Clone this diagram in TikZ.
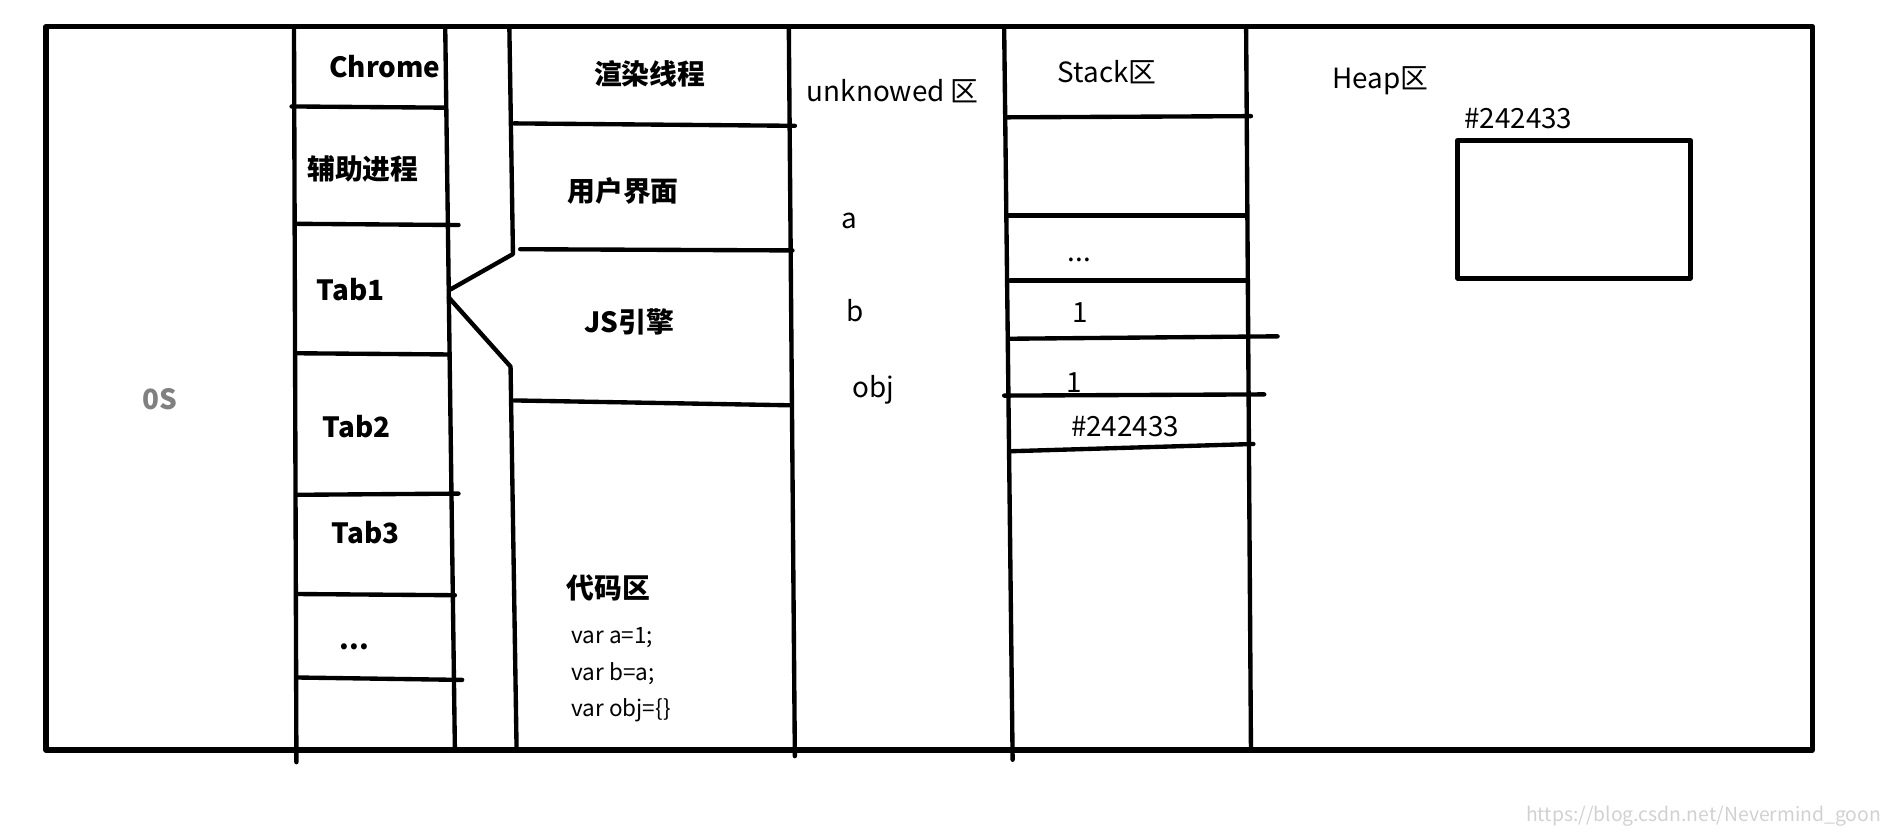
\documentclass[tikz,border=0pt]{standalone}
\usepackage{fontspec}
\setmainfont{Noto Sans CJK SC}
\begin{document}
\begin{tikzpicture}[x=0.5pt, y=-0.5pt, line cap=round, line join=round,
  title/.style={font=\bfseries\fontsize{11.5}{13}\selectfont},
  plain/.style={font=\fontsize{11.5}{13}\selectfont},
  code/.style={font=\fontsize{9.3}{11}\selectfont, anchor=west, inner sep=0pt}]
  \useasboundingbox (0,0) rectangle (1568,688);
  % Draw the outer frame of the whole picture
  \begin{scope}[line width=2.2pt]
    \draw (38,22) rectangle (1498,620);
  \end{scope}
  % Draw the column borders, the render column bends in to Tab1
  \begin{scope}[line width=1.8pt]
    \draw (243,22) -- (245,630);
    \draw (368,22) -- (376,620);
    \draw (421,22) -- (424,210) -- (371,240);
    \draw (371,246) -- (422,303) -- (427,620);
    \draw (652,22) -- (657,625);
    \draw (830,22) -- (837,628);
    \draw (1030,22) -- (1034,620);
  \end{scope}
  % Process rows
  \begin{scope}[line width=1.8pt]
    \draw (241,88) -- (368,89);
    \draw (245,185) -- (379,186);
    \draw (245,292) -- (371,293);
    \draw (245,409) -- (379,408);
    \draw (245,491) -- (376,492);
    \draw (245,560) -- (382,562);
  \end{scope}
  % Thread rows
  \begin{scope}[line width=1.8pt]
    \draw (425,102) -- (657,104);
    \draw (430,206) -- (655,207);
    \draw (425,331) -- (653,335);
  \end{scope}
  % Stack rows
  \begin{scope}[line width=1.8pt]
    \draw (832,97) -- (1034,96);
    \draw (832,178) -- (1030,178);
    \draw (835,232) -- (1030,232);
    \draw (835,280) -- (1056,278);
    \draw (830,327) -- (1045,326);
    \draw (835,373) -- (1036,367);
  \end{scope}
  % Heap object
  \begin{scope}[line width=2pt]
    \draw (1205,116) rectangle (1397,230);
  \end{scope}
  % Labels
  \node[title, text=black!50] (os) at (132,330) {0S};
  \node[title] (chrome) at (318,55) {Chrome};
  \node[title] (helper) at (300,140) {辅助进程};
  \node[title] (tabA) at (290,239) {Tab1};
  \node[title] (tabB) at (295,353) {Tab2};
  \node[title] (tabC) at (302,440) {Tab3};
  \node[title] (tabmore) at (293,535) {...};
  \node[title] (render) at (537,61) {渲染线程};
  \node[title] (ui) at (515,158) {用户界面};
  \node[title] (js) at (520,266) {JS引擎};
  \node[title] (codearea) at (503,486) {代码区};
  \node[code] (lineA) at (472,527) {var a=1;};
  \node[code] (lineB) at (472,557) {var b=a;};
  \node[code] (lineC) at (472,587) {var obj=\{\}};
  \node[plain] (unknown) at (738,75) {unknowed 区};
  \node[plain] (varA) at (702,183) {a};
  \node[plain] (varB) at (707,257) {b};
  \node[plain] (varObj) at (722,322) {obj};
  \node[plain] (stack) at (915,60) {Stack区};
  \node[plain] (stackmore) at (892,215) {...};
  \node[plain] (valA) at (893,258) {1};
  \node[plain] (valB) at (888,316) {1};
  \node[plain] (valObj) at (930,353) {\#242433};
  \node[plain] (heap) at (1141,67) {Heap区};
  \node[plain] (addr) at (1255,98) {\#242433};
  \node[font=\fontsize{8}{9}\selectfont, text=black!18, anchor=east] (mark) at (1562,675) {https://blog.csdn.net/Nevermind\_goon};
\end{tikzpicture}
\end{document}
